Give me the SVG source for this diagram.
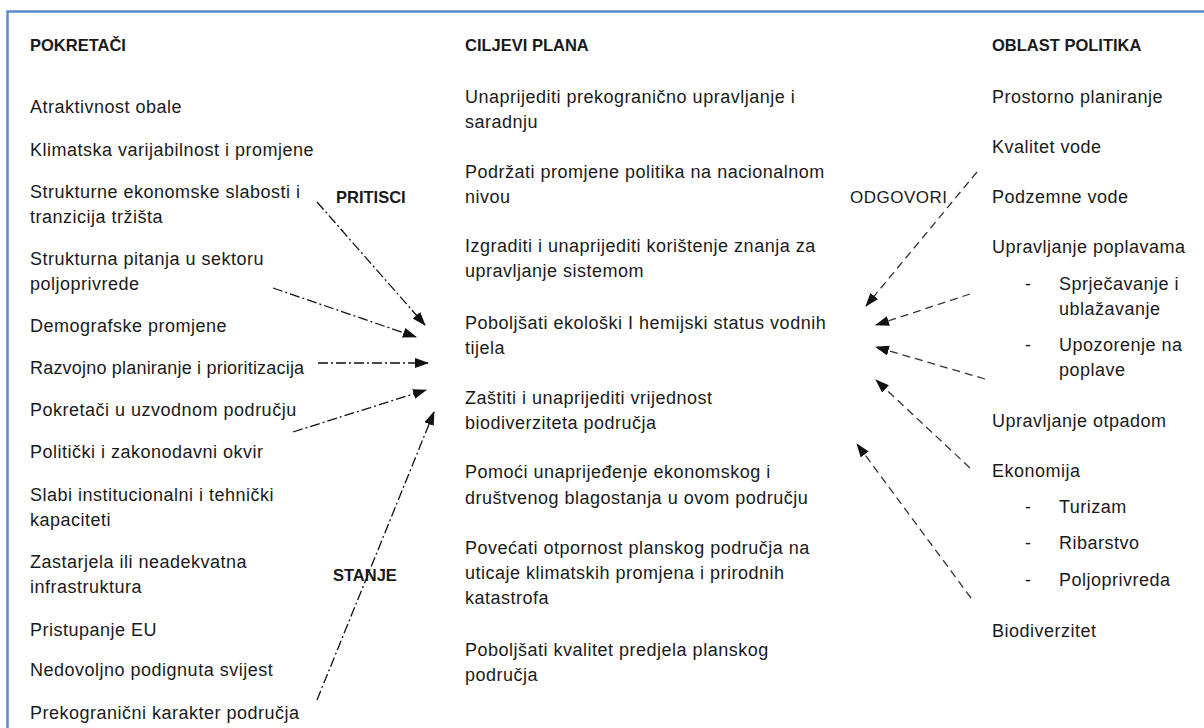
<svg xmlns="http://www.w3.org/2000/svg" width="1204" height="728" viewBox="0 0 1204 728">
<style>
text{font-family:"Liberation Sans",Arial,sans-serif;font-size:18px;letter-spacing:0.5px;fill:#1a1a1a}
.h{font-weight:bold;font-size:16.5px;letter-spacing:0}
.lbl{font-size:17px;letter-spacing:0.5px}
.dd{fill:none;stroke:#111;stroke-width:1.3;stroke-dasharray:10 3 2 3}
.da{fill:none;stroke:#333;stroke-width:1.3;stroke-dasharray:8 5}
</style>
<defs>
<marker id="ah" markerUnits="userSpaceOnUse" markerWidth="14" markerHeight="10" refX="13" refY="5" orient="auto">
<path d="M0,0 L14,5 L0,10 z" fill="#111"/>
</marker>
</defs>
<rect width="1204" height="728" fill="#fff"/>
<path d="M7.5,730 L7.5,11.5 L1206,11.5" fill="none" stroke="#5b8bc9" stroke-width="2.5"/>

<g id="pokretaci">
<text class="h" x="30" y="51">POKRETAČI</text>
<text x="30" y="113">Atraktivnost obale</text>
<text x="30" y="156">Klimatska varijabilnost i promjene</text>
<text x="30" y="198">Strukturne ekonomske slabosti i</text>
<text x="30" y="223">tranzicija tržišta</text>
<text x="30" y="265">Strukturna pitanja u sektoru</text>
<text x="30" y="290">poljoprivrede</text>
<text x="30" y="332">Demografske promjene</text>
<text x="30" y="374" style="letter-spacing:0.2px">Razvojno planiranje i prioritizacija</text>
<text x="30" y="416">Pokretači u uzvodnom području</text>
<text x="30" y="458">Politički i zakonodavni okvir</text>
<text x="30" y="501">Slabi institucionalni i tehnički</text>
<text x="30" y="526">kapaciteti</text>
<text x="30" y="568">Zastarjela ili neadekvatna</text>
<text x="30" y="593">infrastruktura</text>
<text x="30" y="636">Pristupanje EU</text>
<text x="30" y="676">Nedovoljno podignuta svijest</text>
<text x="30" y="719">Prekogranični karakter područja</text>
</g>

<g id="ciljevi">
<text class="h" x="465" y="51">CILJEVI PLANA</text>
<text x="465" y="103">Unaprijediti prekogranično upravljanje i</text>
<text x="465" y="128">saradnju</text>
<text x="465" y="178">Podržati promjene politika na nacionalnom</text>
<text x="465" y="203">nivou</text>
<text x="465" y="252">Izgraditi i unaprijediti korištenje znanja za</text>
<text x="465" y="277">upravljanje sistemom</text>
<text x="465" y="329">Poboljšati ekološki I hemijski status vodnih</text>
<text x="465" y="354">tijela</text>
<text x="465" y="404">Zaštiti i unaprijediti vrijednost</text>
<text x="465" y="429">biodiverziteta područja</text>
<text x="465" y="478">Pomoći unaprijeđenje ekonomskog i</text>
<text x="465" y="504">društvenog blagostanja u ovom području</text>
<text x="465" y="554">Povećati otpornost planskog područja na</text>
<text x="465" y="579">uticaje klimatskih promjena i prirodnih</text>
<text x="465" y="604">katastrofa</text>
<text x="465" y="656">Poboljšati kvalitet predjela planskog</text>
<text x="465" y="681">područja</text>
</g>

<g id="oblast">
<text class="h" x="992" y="51">OBLAST POLITIKA</text>
<text x="992" y="103">Prostorno planiranje</text>
<text x="992" y="153">Kvalitet vode</text>
<text x="992" y="203">Podzemne vode</text>
<text x="992" y="253">Upravljanje poplavama</text>
<text x="1025" y="290">-</text>
<text x="1059" y="290">Sprječavanje i</text>
<text x="1059" y="315">ublažavanje</text>
<text x="1025" y="351">-</text>
<text x="1059" y="351">Upozorenje na</text>
<text x="1059" y="376">poplave</text>
<text x="992" y="427">Upravljanje otpadom</text>
<text x="992" y="477">Ekonomija</text>
<text x="1025" y="513">-</text>
<text x="1059" y="513">Turizam</text>
<text x="1025" y="549">-</text>
<text x="1059" y="549">Ribarstvo</text>
<text x="1025" y="586">-</text>
<text x="1059" y="586">Poljoprivreda</text>
<text x="992" y="637">Biodiverzitet</text>
</g>

<g id="labels">
<text class="h" x="336" y="203">PRITISCI</text>
<text class="h" x="333" y="581">STANJE</text>
<text class="lbl" x="850" y="203">ODGOVORI</text>
</g>

<g id="connectors">
<path class="dd" d="M317,202 L425,325" marker-end="url(#ah)"/>
<path class="dd" d="M273,288 L416,337" marker-end="url(#ah)"/>
<path class="dd" d="M318,363 L428,363" marker-end="url(#ah)"/>
<path class="dd" d="M293,432 L426,390" marker-end="url(#ah)"/>
<path class="dd" d="M317,700 L434,412" marker-end="url(#ah)"/>
<path class="da" d="M977,172 L866,306" marker-end="url(#ah)"/>
<path class="da" d="M970,294 L876,325" marker-end="url(#ah)"/>
<path class="da" d="M985,379 L876,347" marker-end="url(#ah)"/>
<path class="da" d="M970,468 L876,380" marker-end="url(#ah)"/>
<path class="da" d="M971,598 L857,444" marker-end="url(#ah)"/>
</g>
</svg>
